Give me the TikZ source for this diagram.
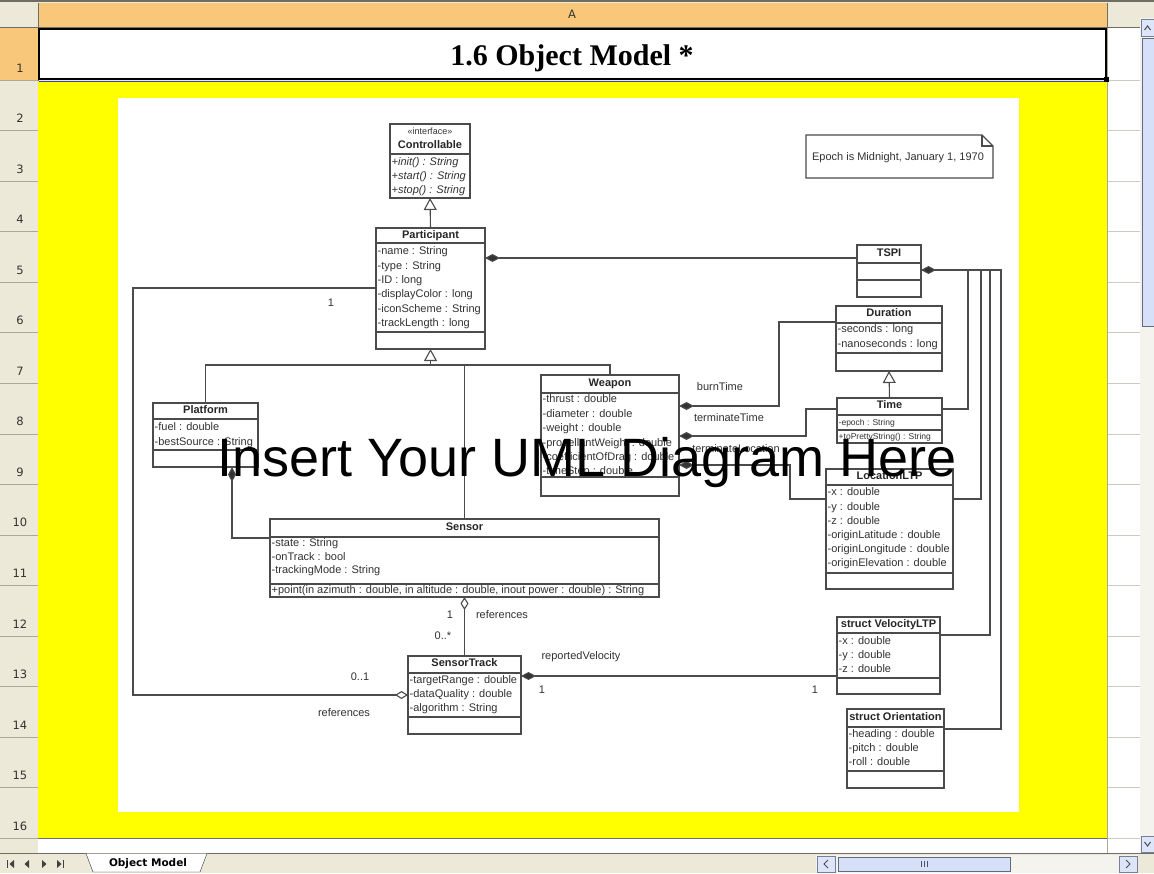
\documentclass[tikz,border=0pt]{standalone}
\usepackage{fontspec}
\setmainfont{Liberation Sans}
\newfontfamily\serifttl{Liberation Serif}
\newfontfamily\dejavu{DejaVu Sans}
\usetikzlibrary{arrows.meta,calc}

\definecolor{xlgray}{RGB}{236,233,216}
\definecolor{xlorange}{RGB}{249,199,122}
\definecolor{xlyellow}{RGB}{255,255,0}
\definecolor{xlline}{RGB}{170,168,150}
\definecolor{xldark}{RGB}{110,110,100}
\definecolor{umlline}{RGB}{75,75,75}
\definecolor{umltext}{RGB}{50,50,50}
\definecolor{sbblue}{RGB}{196,212,246}
\definecolor{sbtrack}{RGB}{244,243,238}

\tikzset{
 clsbox/.style={draw=umlline, line width=1.1pt, fill=white, inner sep=0pt, outer sep=0pt, rectangle},
 sepline/.style={draw=umlline, line width=1.1pt},
 attr/.style={font=\fontsize{11}{13}\selectfont, text=umltext, inner sep=0.5pt, anchor=west, text height=7.8pt, text depth=2.2pt},
 attrsmall/.style={attr, font=\fontsize{8.5}{10}\selectfont},
 opital/.style={attr, font=\fontsize{11}{13}\selectfont\itshape},
 hdr/.style={font=\fontsize{11}{13}\selectfont\bfseries, text=black!85, inner sep=0pt, text height=7.8pt, text depth=2.2pt},
 stereo/.style={font=\fontsize{9}{10}\selectfont, text=umltext, inner sep=0pt},
 lbl/.style={font=\fontsize{11}{13}\selectfont, text=umltext, inner sep=0pt},
 conn/.style={draw=umlline, line width=1.1pt},
 inh/.style={conn, -{Triangle[length=12pt, width=13pt, fill=white]}},
 compo/.style={conn, {Diamond[length=15pt, width=8pt, fill=black!80]}-},
 aggr/.style={conn, {Diamond[length=13pt, width=8pt, fill=white]}-},
 xlfont/.style={font=\dejavu\fontsize{11.5}{13}\selectfont, text=black!80, inner sep=0pt},
}

% name, x1, y1, x2, y2, sep1, sep2
\newcommand{\umlbox}[7]{%
  \node[clsbox, minimum width={(#4-#2)*1pt}, minimum height={(#5-#3)*1pt}, anchor=north west] (#1) at (#2,#3) {};
  \draw[sepline] (#1.west |- 0,#6) -- (#1.east |- 0,#6);
  \draw[sepline] (#1.west |- 0,#7) -- (#1.east |- 0,#7);
}
% prefix, x, y0, dy, list
\newcommand{\umlattrs}[5]{%
  \foreach \txt [count=\ii] in {#5} {\node[attr] (#1\ii) at (#2, {#3+#4*(\ii-1)}) {\txt};}
}

\begin{document}
\begin{tikzpicture}[x=1pt,y=-1pt]
\useasboundingbox (0,0) rectangle (1154,873);

% ---------------- spreadsheet frame ----------------
\fill[xlgray] (0,0) rectangle (1154,873);
\draw[xldark, line width=1.5pt] (0,0.8) -- (1154,0.8);
\fill[xlorange] (38,3) rectangle (1107,27);
\fill[xlorange] (0,28) rectangle (38,80);
\draw[xldark] (38,3) -- (38,27) (1107,3) -- (1107,27) (0,27.5) -- (1140,27.5) (38,28) -- (38,853);
\node[xlfont] (colA) at (572,14) {A};
% cells right of column A
\fill[white] (1108,28) rectangle (1140,853);
\fill[white] (38,839) rectangle (1108,853);
\foreach \k in {0,...,15} {
  \draw[xlline] (0,{80+50.53*\k}) -- (38,{80+50.53*\k});
  \draw[xlline!60] (1107,{80+50.53*\k}) -- (1140,{80+50.53*\k});
}
\draw[xlline] (1107,28) -- (1107,853);
% row numbers
\node[xlfont] (r1) at (20,68) {1};
\foreach \k in {2,...,16} {\node[xlfont] (r\k) at (20,{80+50.53*(\k-1)-12}) {\k};}
% yellow cell and white picture
\fill[xlyellow] (38,81) rectangle (1107,838);
\draw[xldark] (38,838.5) -- (1107,838.5);
\fill[white] (118,98) rectangle (1019,812);
% title cell
\filldraw[fill=white, draw=black, line width=2pt] (39,29) rectangle (1106,79);
\draw[blue!50!gray, line width=0.8pt] (39,81) -- (1106,81);
\fill[black] (1104,77) rectangle (1109,82);
\node[font=\serifttl\bfseries\fontsize{30}{33}\selectfont, anchor=base, inner sep=0pt] (title) at (572,65.5) {1.6 Object Model *};
% vertical scrollbar
\fill[sbtrack] (1140,18) rectangle (1154,853);
\filldraw[fill=sbblue!60, draw=sbblue!60!black] (1141,19) rectangle (1154,36);
\draw[black!70, line width=1pt] (1144.5,30) -- (1147.5,26) -- (1150.5,30);
\filldraw[fill=sbblue!70, draw=sbblue!50!black] (1142,38) rectangle (1154,326);
\filldraw[fill=sbblue!60, draw=sbblue!60!black] (1141,836) rectangle (1154,852);
\draw[black!70, line width=1pt] (1144.5,842) -- (1147.5,846) -- (1150.5,842);
% bottom tab bar
\fill[xlgray] (0,853) rectangle (1154,873);
\draw[xldark] (0,853.5) -- (1154,853.5);
\fill[black!75] (7,860) rectangle (8.2,868);
\fill[black!75] (14,860) -- (14,868) -- (9.5,864) -- cycle;
\fill[black!75] (29,860) -- (29,868) -- (24.5,864) -- cycle;
\fill[black!75] (42,860) -- (42,868) -- (46.5,864) -- cycle;
\fill[black!75] (57,860) -- (57,868) -- (61.5,864) -- cycle;
\fill[black!75] (62.5,860) rectangle (63.7,868);
\filldraw[fill=white, draw=black!80] (86,853.5) -- (93,872) -- (200,872) -- (207,853.5);
\node[font=\dejavu\bfseries\fontsize{10.5}{12}\selectfont, inner sep=0pt] (tab) at (148,864) {Object Model};
% horizontal scrollbar
\fill[sbtrack] (816,855) rectangle (1138,873);
\filldraw[fill=sbblue!60, draw=sbblue!60!black] (817,856) rectangle (835,872);
\draw[black!70, line width=1pt] (828,860) -- (824,864) -- (828,868);
\filldraw[fill=sbblue!70, draw=sbblue!50!black] (838,857) rectangle (1010,871);
\draw[sbblue!40!black] (921,861) -- (921,867) (924,861) -- (924,867) (927,861) -- (927,867);
\filldraw[fill=sbblue!60, draw=sbblue!60!black] (1119,856) rectangle (1137,872);
\draw[black!70, line width=1pt] (1126,860) -- (1130,864) -- (1126,868);

% ---------------- UML classes ----------------
% Controllable
\umlbox{controllable}{390}{124}{470}{198}{154}{154}
\node[stereo] (ctlst) at (430,131) {«interface»};
\node[hdr] (ctlh) at (430,146) {Controllable};
\node[opital] (ctl1) at (391,163) {+init() : String};
\node[opital] (ctl2) at (391,177) {+start() : String};
\node[opital] (ctl3) at (391,191) {+stop() : String};

% Participant
\umlbox{participant}{376}{228}{485}{349}{243}{332}
\node[hdr] (parth) at (430.5,236) {Participant};
\umlattrs{pa}{377}{252}{14.35}{-name : String,-type : String,-ID : long,-displayColor : long,-iconScheme : String,-trackLength : long}

% TSPI
\umlbox{tspi}{857}{245}{921}{297}{263}{280}
\node[hdr] (tspih) at (889,254) {TSPI};

% Duration
\umlbox{duration}{836}{306}{942}{371}{323}{353}
\node[hdr] (durh) at (889,314) {Duration};
\umlattrs{du}{837}{330}{14.2}{-seconds : long,-nanoseconds : long}

% Time
\umlbox{time}{837}{398}{942}{443}{415}{430}
\node[hdr] (timeh) at (889.5,406) {Time};
\node[attrsmall] (ti1) at (838,422.5) {-epoch : String};
\node[attrsmall] (ti2) at (838,436.5) {+toPrettyString() : String};

% Weapon
\umlbox{weapon}{541}{375}{679}{496}{393}{477}
\node[hdr] (weaph) at (610,384) {Weapon};
\umlattrs{we}{542}{400}{14.4}{-thrust : double,-diameter : double,-weight : double,-propellantWeight : double,-coefficientOfDrag : double,-timeStep : double}

% Platform
\umlbox{platform}{153}{403}{258}{467}{419}{450}
\node[hdr] (plath) at (205.5,411) {Platform};
\umlattrs{pl}{154}{428}{14.2}{-fuel : double,-bestSource : String}

% Sensor
\umlbox{sensor}{270}{519}{659}{597}{537}{584}
\node[hdr] (senh) at (464.5,528) {Sensor};
\umlattrs{se}{271}{544}{13.5}{-state : String,-onTrack : bool,-trackingMode : String}
\node[attr] (seop) at (271,590.5) {+point(in azimuth : double, in altitude : double, inout power : double) : String};

% SensorTrack
\umlbox{sensortrack}{408}{656}{521}{734}{673}{717}
\node[hdr] (sth) at (464.5,664) {SensorTrack};
\umlattrs{st}{409}{680.5}{14.3}{-targetRange : double,-dataQuality : double,-algorithm : String}

% LocationLTP
\umlbox{location}{826}{469}{953}{589}{485}{573}
\node[hdr] (loch) at (889.5,477) {LocationLTP};
\umlattrs{lo}{827}{493}{14.2}{-x : double,-y : double,-z : double,-originLatitude : double,-originLongitude : double,-originElevation : double}

% struct VelocityLTP
\umlbox{velocity}{837}{617}{940}{694}{633}{678}
\node[hdr] (velh) at (888.5,625) {struct VelocityLTP};
\umlattrs{ve}{838}{642}{14}{-x : double,-y : double,-z : double}

% struct Orientation
\umlbox{orientation}{847}{709}{944}{788}{727}{771}
\node[hdr] (orih) at (895.5,718) {struct Orientation};
\umlattrs{or}{848}{734.5}{14}{-heading : double,-pitch : double,-roll : double}

% Note
\draw[umlline, line width=1.1pt, fill=white] (806,135) -- (982,135) -- (993,146) -- (993,178) -- (806,178) -- cycle;
\draw[umlline, line width=1.1pt] (982,135) -- (982,146) -- (993,146);
\node[lbl] (note) at (898,157.5) {Epoch is Midnight, January 1, 1970};

% ---------------- connectors ----------------
\draw[inh] (participant.north) -- (controllable.south);

\coordinate (ih) at (430.5,365);
\draw[conn] (platform.north) |- (ih);
\draw[conn] (ih) -| (weapon.north);
\draw[conn] (sensor.north) -- (sensor.north |- ih);
\draw[inh] (ih) -- (participant.south);

\draw[compo] (participant.east |- 0,258) -- (tspi.west |- 0,258);

\coordinate (tj) at (tspi.east |- 0,270);
\draw[conn] (tj) -| (981,499) -- (location.east |- 0,499);
\draw[conn] (tj) -| (990,635) -- (velocity.east |- 0,635);
\draw[conn] (tj) -| (1001,729) -- (orientation.east |- 0,729);
\draw[compo] (tj) -| (968,409) -- (time.east |- 0,409);

\draw[inh] (time.north) -- (duration.south);

\draw[compo] (weapon.east |- 0,406) -| (779,322) -- (duration.west |- 0,322);
\draw[compo] (weapon.east |- 0,436) -| (806,409) -- (time.west |- 0,409);
\draw[compo] (weapon.east |- 0,465) -| (790,499) -- (location.west |- 0,499);
\node[lbl] (lburn) at (720,387) {burnTime};
\node[lbl] (lterm) at (729,418) {terminateTime};
\node[lbl] (lterml) at (736,449) {terminateLocation};

\draw[compo] (platform.south -| 232,0) |- (sensor.west |- 0,538);

\draw[aggr] (sensor.south) -- (sensortrack.north);
\node[lbl] (m1) at (450,615) {1};
\node[lbl] (lref1) at (502,615) {references};
\node[lbl] (m2) at (443,636) {0..*};

\draw[compo] (sensortrack.east |- 0,676) -- (velocity.west |- 0,676);
\node[lbl] (lrv) at (581,657) {reportedVelocity};
\node[lbl] (m3) at (542,690) {1};
\node[lbl] (m4) at (815,690) {1};

\draw[aggr] (sensortrack.west |- 0,695) -| (133,288) -- (participant.west |- 0,288);
\node[lbl] (m5) at (360,677) {0..1};
\node[lbl] (lref2) at (344,713) {references};
\node[lbl] (m6) at (331,303) {1};

% overlay text
\node[font=\fontsize{54}{60}\selectfont, anchor=base, text=black, inner sep=0pt] (overlay) at (587,476) {Insert Your UML Diagram Here};
\end{tikzpicture}
\end{document}
